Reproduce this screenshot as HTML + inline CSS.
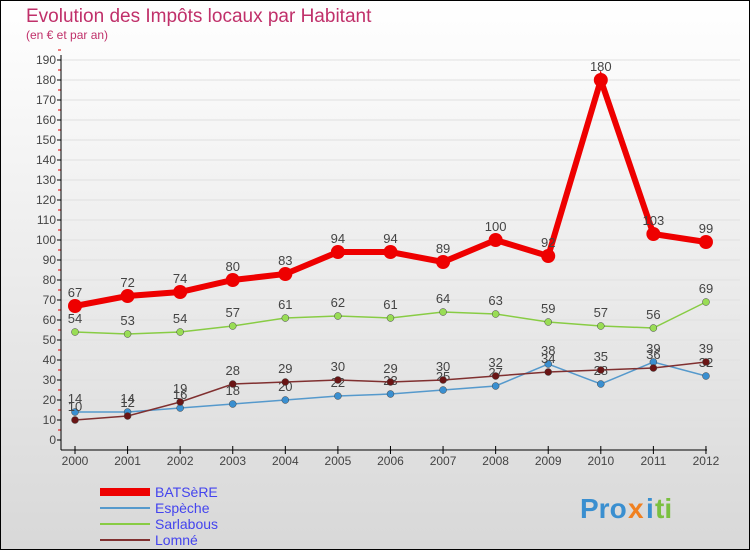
<!DOCTYPE html>
<html><head><meta charset="utf-8"><style>
body{margin:0}
svg{display:block;font-family:"Liberation Sans",sans-serif}
</style></head><body>
<svg width="750" height="550">
<defs><linearGradient id="bg" x1="0" y1="0" x2="0" y2="1"><stop offset="0" stop-color="#ffffff"/><stop offset="1" stop-color="#d8d8d8"/></linearGradient></defs>
<rect x="0.5" y="0.5" width="749" height="549" fill="url(#bg)" stroke="#000"/>
<text x="26" y="22" font-size="19" fill="#c0306a">Evolution des Impôts locaux par Habitant</text>
<text x="26" y="39" font-size="12" fill="#c0306a">(en € et par an)</text>
<g id="axes"></g>
<g id="series"></g>
<g id="legend"></g>
<g font-size="28" font-weight="bold">
<text x="580" y="518" fill="#3a8fd0">Pro</text><text x="628" y="518" fill="#f08020">x</text><text x="646" y="518" fill="#3a8fd0">i</text><text x="655" y="518" fill="#7ac040">ti</text>
</g>
</svg>
<script>
const years=["2000","2001","2002","2003","2004","2005","2006","2007","2008","2009","2010","2011","2012"];
const batsere=[67,72,74,80,83,94,94,89,100,92,180,103,99];
const espeche=[14,14,16,18,20,22,23,25,27,38,28,39,32];
const sarlabous=[54,53,54,57,61,62,61,64,63,59,57,56,69];
const lomne=[10,12,19,28,29,30,29,30,32,34,35,36,39];
const yTicks=[0,10,20,30,40,50,60,70,80,90,100,110,120,130,140,150,160,170,180,190];
const NS="http://www.w3.org/2000/svg";
const X=i=>75+i*52.58, Y=v=>440-v*2;
function mk(tag,attrs,parent){const e=document.createElementNS(NS,tag);for(const k in attrs)e.setAttribute(k,attrs[k]);parent.appendChild(e);return e;}
const ax=document.getElementById('axes');
yTicks.forEach(v=>{
 const g=mk('line',{x1:61,x2:740,y1:Y(v),y2:Y(v),stroke:'#e0e0e0','stroke-width':1},ax);
 
 
 const t=mk('line',{x1:57,x2:61,y1:Y(v),y2:Y(v),stroke:'#000'},ax);
 
 
 const m=mk('line',{x1:58,x2:61,y1:Y(v+5),y2:Y(v+5),stroke:'#e00000'},ax);
 
 
 const l=mk('text',{x:56,y:Y(v)+4,'text-anchor':'end','font-size':12,fill:'#444'},ax);
 l.textContent=v;
 
 
});
let a=mk('line',{x1:61,x2:61,y1:55,y2:450,stroke:'#000'},ax);


a=mk('line',{x1:61,x2:707,y1:450,y2:450,stroke:'#000'},ax);


years.forEach((y,i)=>{
 const t=mk('line',{x1:X(i),x2:X(i),y1:446,y2:454,stroke:'#000'},ax);
 
 
 const l=mk('text',{x:X(i),y:465,'text-anchor':'middle','font-size':12,fill:'#444'},ax);
 l.textContent=y;
 
 
});
const S=document.getElementById('series');
const series=[
 {name:'Sarlabous',d:sarlabous,c:'#88cc44',w:1.5,r:3.5,fc:'#99dd55'},
 {name:'Espèche',d:espeche,c:'#5599cc',w:1.5,r:3.5,fc:'#3a8fd0'},
 {name:'Lomné',d:lomne,c:'#803030',w:1.5,r:3.5,fc:'#6a1515'},
 {name:'BATSèRE',d:batsere,c:'#ee0000',w:6,r:7,fc:'#ee0000'}
];
series.forEach(s=>{
 const g=mk('g',{},S);
 
 
 const p=mk('polyline',{points:s.d.map((v,i)=>X(i)+','+Y(v)).join(' '),fill:'none',stroke:s.c,'stroke-width':s.w},g);
 
 
 s.d.forEach((v,i)=>{
  const c=mk('circle',{cx:X(i),cy:Y(v),r:s.r,fill:s.fc,stroke:s.w>2?'none':'#444','stroke-width':0.5},g);
  
  
  const t=mk('text',{x:X(i),y:Y(v)-9,'text-anchor':'middle','font-size':13,fill:'#444'},g);
  t.textContent=v;
  
  
 });
});
const L=document.getElementById('legend');
[['BATSèRE','#ee0000',8],['Espèche','#5599cc',2],['Sarlabous','#88cc44',2],['Lomné','#803030',2]].forEach((e,i)=>{
 const y=492+i*16;
 const g=mk('g',{},L);
 
 
 mk('line',{x1:100,x2:150,y1:y,y2:y,stroke:e[1],'stroke-width':e[2]},g);
 const t=mk('text',{x:155,y:y+5,'font-size':14,fill:'#4444ee'},g);
 t.textContent=e[0];
});
</script>
</body></html>
